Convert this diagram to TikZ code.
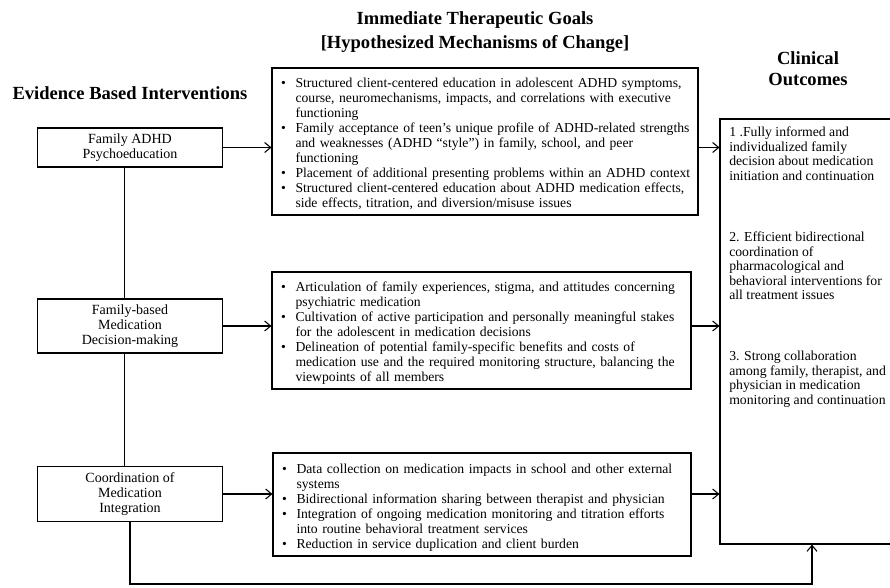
\documentclass[tikz,border=0pt]{standalone}
\usepackage{fontspec}
\setmainfont{Liberation Serif}
\usetikzlibrary{arrows.meta}
\setlength{\parindent}{0pt}
\newcommand{\bul}{\textbullet}
\newcommand{\lowered}[1]{\raisebox{-2.5pt}[\height][\depth]{#1}}
\tikzset{
  body/.style={font=\fontsize{10.25}{11.25}\selectfont},
  heading/.style={font=\bfseries\fontsize{13.9}{17.5}\selectfont, align=center, inner sep=0pt},
  intervbox/.style={font=\fontsize{10.5}{11}\selectfont, draw, line width=0.8pt, minimum width=138.75pt, align=center, inner sep=2pt},
  goalbox/.style={body, draw, line width=0.8pt, inner xsep=6.75pt, inner ysep=2pt, align=left},
  outtext/.style={font=\fontsize{10.3}{10.8}\selectfont, align=left, anchor=north west, inner sep=0pt},
  link/.style={line width=0.8pt},
  flow/.style={line width=0.8pt, -{Straight Barb[length=4.5pt,width=7.5pt]}},
}
\begin{document}
\begin{tikzpicture}[x=0.75pt,y=-0.75pt]
  \clip (0,0) rectangle (890,587);
  % headings
  \node[heading] (evhead) at (130,93) {Evidence Based Interventions};
  \node[heading] (goalhead) at (475,32) {Immediate Therapeutic Goals\\{}[Hypothesized Mechanisms of Change]};
  \node[heading, font=\bfseries\fontsize{13.9}{15.75}\selectfont] (outhead) at (808,69) {Clinical\\Outcomes};
  % interventions
  \node[intervbox, minimum height=29.25pt] (interv1) at (130,147.5) {Family ADHD\\Psychoeducation};
  \node[intervbox, minimum height=40.5pt] (interv2) at (130,326) {Family-based\\Medication\\Decision-making};
  \node[intervbox, minimum height=41.25pt] (interv3) at (130,494) {Coordination of\\Medication\\Integration};
  % goals
  \node[goalbox, text width=306pt, minimum height=110.25pt] (goal1) at (485,141.5) {\lowered{%
    \begin{tabular}{@{}l@{\hspace{7.3pt}}l@{}}
    \bul & Structured client-centered education in adolescent ADHD symptoms,\\
         & course, neuromechanisms, impacts, and correlations with executive\\
         & functioning\\
    \bul & Family acceptance of teen's unique profile of ADHD-related strengths\\
         & and weaknesses (ADHD ``style'') in family, school, and peer\\
         & functioning\\
    \bul & Placement of additional presenting problems within an ADHD context\\
    \bul & Structured client-centered education about ADHD medication effects,\\
         & side effects, titration, and diversion/misuse issues
    \end{tabular}}};
  \node[goalbox, text width=300.75pt, minimum height=87.75pt] (goal2) at (481.5,330.5) {\lowered{%
    \begin{tabular}{@{}l@{\hspace{7.3pt}}l@{}}
    \bul & Articulation of family experiences, stigma, and attitudes concerning\\
         & psychiatric medication\\
    \bul & Cultivation of active participation and personally meaningful stakes\\
         & for the adolescent in medication decisions\\
    \bul & Delineation of potential family-specific benefits and costs of\\
         & medication use and the required monitoring structure, balancing the\\
         & viewpoints of all members
    \end{tabular}}};
  \node[goalbox, text width=300pt, minimum height=77.25pt] (goal3) at (482,504.5) {\lowered{%
    \begin{tabular}{@{}l@{\hspace{7.3pt}}l@{}}
    \bul & Data collection on medication impacts in school and other external\\
         & systems\\
    \bul & Bidirectional information sharing between therapist and physician\\
    \bul & Integration of ongoing medication monitoring and titration efforts\\
         & into routine behavioral treatment services\\
    \bul & Reduction in service duplication and client burden
    \end{tabular}}};
  % outcomes
  \node[draw, line width=0.8pt, minimum width=138pt, minimum height=318.75pt] (outcomes) at (812,331.5) {};
  \node[outtext] (out1) at (729,127) {1 .Fully informed and\\individualized family\\decision about medication\\initiation and continuation};
  \node[outtext] (out2) at (729,232) {2. Efficient bidirectional\\coordination of\\pharmacological and\\behavioral interventions for\\all treatment issues};
  \node[outtext] (out3) at (729,351) {3. Strong collaboration\\among family, therapist, and\\physician in medication\\monitoring and continuation};
  % connectors
  \draw[link] ([xshift=-4pt]interv1.south) -- ([xshift=-4pt]interv2.north);
  \draw[link] ([xshift=-4pt]interv2.south) -- ([xshift=-4pt]interv3.north);
  \draw[flow] (interv1.east) -- (interv1.east -| goal1.west);
  \draw[flow] (interv2.east) -- (interv2.east -| goal2.west);
  \draw[flow] (interv3.east) -- (interv3.east -| goal3.west);
  \draw[flow] (interv1.east -| goal1.east) -- (interv1.east -| outcomes.west);
  \draw[flow] (interv2.east -| goal2.east) -- (interv2.east -| outcomes.west);
  \draw[flow] (interv3.east -| goal3.east) -- (interv3.east -| outcomes.west);
  \coordinate (loopbase) at (130,584);
  \draw[flow] (interv3.south) -- (loopbase) -| (outcomes.south);
\end{tikzpicture}
\end{document}
